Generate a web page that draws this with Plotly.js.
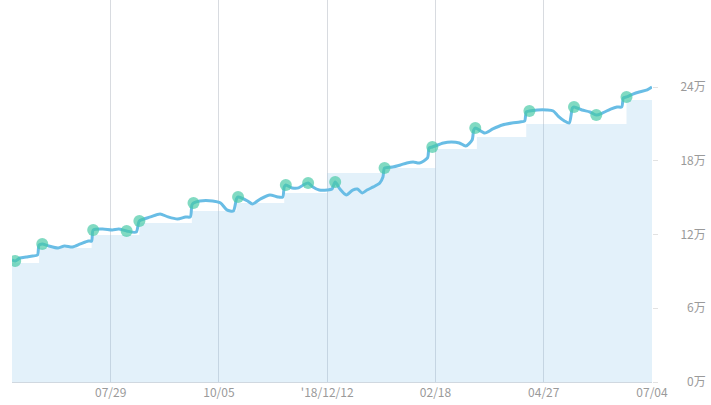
<!DOCTYPE html>
<html>
<head>
<meta charset="utf-8">
<script src="https://cdn.plot.ly/plotly-3.0.1.min.js"></script>
<style>html,body{margin:0;padding:0;background:#fff;}#chart{width:711px;height:405px;}</style>
</head>
<body>
<div id="chart"></div>
<script>
// Asset value line (unit: 万)
const lineDates = ["2018-05-28","2018-05-30","2018-06-02","2018-06-06","2018-06-10","2018-06-13","2018-06-14","2018-06-16","2018-06-20","2018-06-26","2018-06-30","2018-07-05","2018-07-10","2018-07-15","2018-07-17","2018-07-18","2018-07-24","2018-07-30","2018-08-03","2018-08-08","2018-08-14","2018-08-16","2018-08-23","2018-08-29","2018-09-03","2018-09-09","2018-09-14","2018-09-17","2018-09-18","2018-09-19","2018-09-23","2018-10-01","2018-10-06","2018-10-10","2018-10-14","2018-10-16","2018-10-17","2018-10-23","2018-10-26","2018-10-31","2018-11-06","2018-11-11","2018-11-14","2018-11-15","2018-11-16","2018-11-20","2018-11-24","2018-11-27","2018-11-30","2018-12-03","2018-12-07","2018-12-12","2018-12-15","2018-12-17","2018-12-20","2018-12-24","2018-12-28","2018-12-31","2019-01-03","2019-01-06","2019-01-10","2019-01-14","2019-01-16","2019-01-17","2019-01-22","2019-01-27","2019-01-31","2019-02-04","2019-02-08","2019-02-13","2019-02-14","2019-02-16","2019-02-23","2019-02-28","2019-03-05","2019-03-09","2019-03-13","2019-03-14","2019-03-15","2019-03-21","2019-03-26","2019-04-01","2019-04-07","2019-04-12","2019-04-15","2019-04-16","2019-04-18","2019-04-23","2019-04-29","2019-05-03","2019-05-06","2019-05-10","2019-05-13","2019-05-15","2019-05-16","2019-05-21","2019-05-26","2019-05-30","2019-06-03","2019-06-08","2019-06-12","2019-06-15","2019-06-16","2019-06-18","2019-06-22","2019-06-26","2019-07-01","2019-07-04"];
const lineValues = [9.93,9.85,10.09,10.17,10.25,10.33,11.15,11.23,11.07,10.90,11.07,10.98,11.23,11.47,11.47,12.37,12.45,12.37,12.45,12.29,12.20,13.10,13.43,13.67,13.43,13.26,13.43,13.43,14.40,14.56,14.73,14.73,14.56,14.00,13.91,14.89,15.05,14.73,14.48,14.89,15.22,15.05,15.05,15.87,16.03,15.79,15.79,16.03,16.19,15.87,15.62,15.62,15.70,16.27,15.70,15.22,15.62,15.70,15.38,15.62,15.87,16.19,16.68,17.41,17.49,17.66,17.82,17.90,17.82,18.23,19.04,19.12,19.45,19.53,19.45,19.20,19.69,20.50,20.67,20.26,20.59,20.91,21.07,21.16,21.24,21.97,22.05,22.13,22.13,22.05,21.64,21.24,21.07,22.29,22.38,22.13,21.97,21.72,21.89,22.21,22.38,22.38,23.11,23.19,23.43,23.60,23.76,24.00];

// Purchase markers
const markerDates = ["2018-05-30","2018-06-16","2018-07-18","2018-08-08","2018-08-16","2018-09-19","2018-10-17","2018-11-16","2018-11-30","2018-12-17","2019-01-17","2019-02-16","2019-03-15","2019-04-18","2019-05-16","2019-05-30","2019-06-18"];
const markerValues = [9.85,11.23,12.37,12.29,13.10,14.56,15.05,16.03,16.19,16.27,17.41,19.12,20.67,22.05,22.38,21.72,23.19];

// Principal (step area)
const stepDates = ["2018-05-28","2018-06-14","2018-07-17","2018-08-16","2018-09-18","2018-10-16","2018-11-15","2018-12-12","2019-01-16","2019-02-18","2019-03-16","2019-04-16","2019-06-18","2019-07-04"];
const stepValues = [9.68,10.90,11.96,12.94,13.91,14.56,15.38,17.00,17.41,18.96,19.93,20.99,22.95,22.95];

// Axis ticks
const xTickVals = ["2018-07-29","2018-10-05","2018-12-12","2019-02-18","2019-04-27","2019-07-04"];
const xTickText = ["07/29","10/05","'18/12/12","02/18","04/27","07/04"];
const yTickVals = [0,6,12,18,24];
const yTickText = ["\u20070万","\u20076万","12万","18万","24万"];

const traces = [
  {x: stepDates, y: stepValues, type: 'scatter', mode: 'lines', line: {shape: 'hv', width: 0, color: 'rgba(0,0,0,0)'}, fill: 'tozeroy', fillcolor: 'rgba(140,195,235,0.24)', hoverinfo: 'skip'},
  {x: lineDates, y: lineValues, type: 'scatter', mode: 'lines', line: {color: '#69bde5', width: 3, shape: 'spline', smoothing: 0.7}, hoverinfo: 'skip'},
  {x: markerDates, y: markerValues, type: 'scatter', mode: 'markers', marker: {size: 12, color: 'rgba(70,200,165,0.68)', line: {width: 0}}, hoverinfo: 'skip'}
];

const layout = {
  width: 711, height: 405,
  margin: {l: 12, r: 59, t: 0, b: 23},
  paper_bgcolor: '#fff', plot_bgcolor: '#fff',
  showlegend: false,
  font: {family: '"Noto Sans CJK SC", "Noto Sans", sans-serif', size: 12, color: '#9a9a9a'},
  xaxis: {
    type: 'date', range: ['2018-05-28', '2019-07-04'],
    tickvals: xTickVals, ticktext: xTickText,
    showgrid: true, gridcolor: '#d8dbe0', gridwidth: 1,
    showline: true, linecolor: '#d0d8e0', linewidth: 1,
    ticks: '', zeroline: false,
    tickfont: {size: 12, color: '#9a9a9a'}
  },
  yaxis: {
    side: 'right', range: [0, 31.08],
    tickvals: yTickVals, ticktext: yTickText,
    showgrid: false, zeroline: false, showline: false,
    ticks: 'outside', ticklen: 5, tickcolor: '#e2e2e2', tickwidth: 1,
    ticklabelstandoff: 20,
    tickfont: {size: 12, color: '#9a9a9a'}
  }
};

Plotly.newPlot('chart', traces, layout, {displayModeBar: false, staticPlot: true});
</script>
</body>
</html>
